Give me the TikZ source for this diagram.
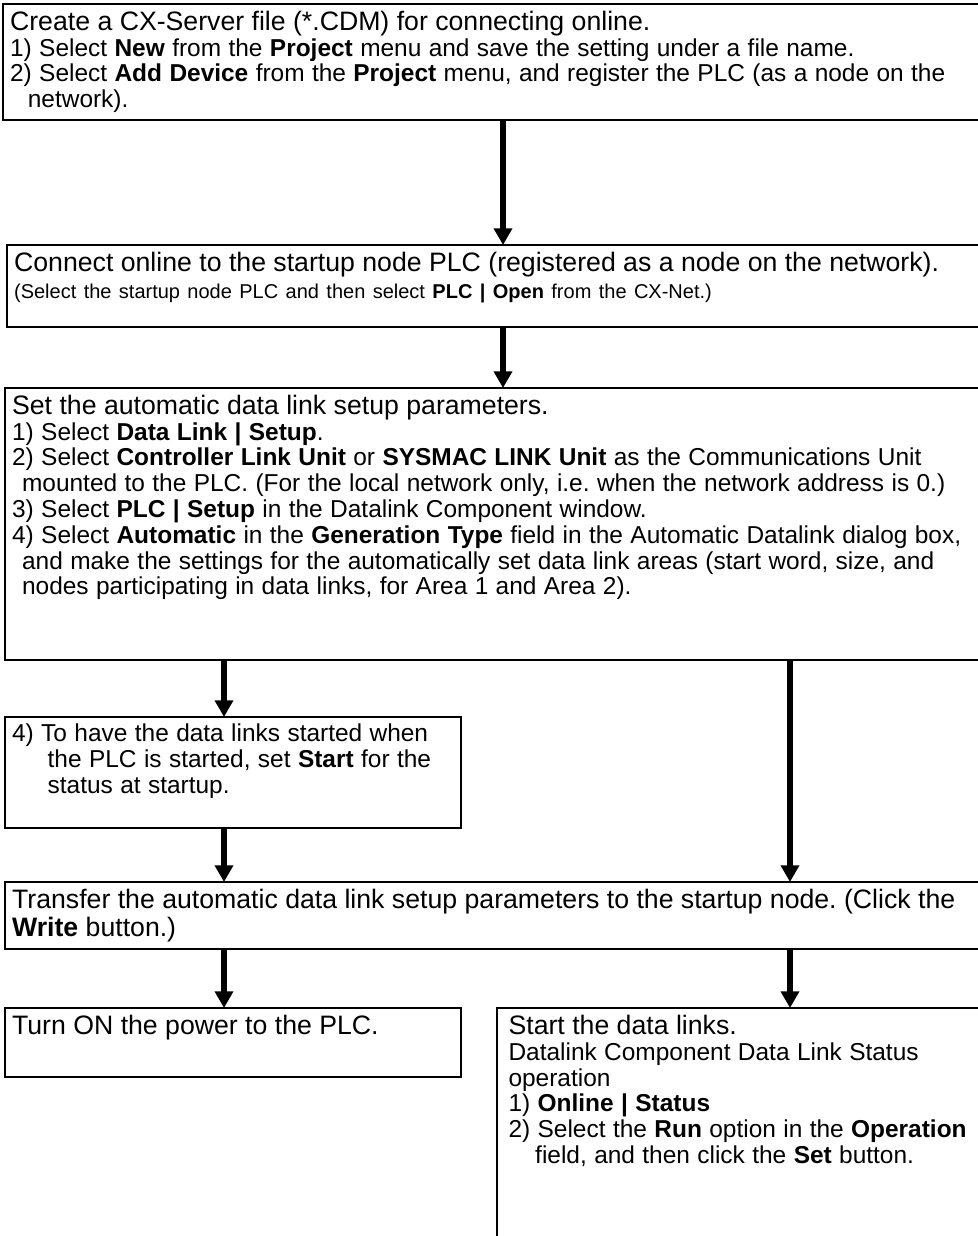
\documentclass[tikz,border=0pt]{standalone}
\usepackage{fontspec}
\setmainfont{Liberation Sans}
\usetikzlibrary{arrows.meta,calc}
\newcommand{\fhead}{\fontsize{12}{12.6}\selectfont}
\newcommand{\fbody}{\fontsize{11}{11.6}\selectfont}
\newcommand{\fsmall}{\fontsize{9}{12.2}\selectfont}
\begin{document}
\frenchspacing
\begin{tikzpicture}[x=0.45pt,y=-0.45pt,
  box/.style={draw, line width=0.9pt, anchor=north west, inner sep=0pt, outer sep=0pt},
  txt/.style={anchor=north west, inner xsep=3pt, inner ysep=3pt, align=left, text width=440pt, font=\frenchspacing},
  arr/.style={line width=2.8pt, -{Triangle[width=8pt,length=7.5pt]}}]
\useasboundingbox (0,0) rectangle (978,1236);
\clip (0,0) rectangle (978,1236);
% boxes
\node[box, minimum width=450pt, minimum height=52.2pt] (b1) at (3,4) {};
\node[box, minimum width=450pt, minimum height=36.9pt] (b2) at (7,245) {};
\node[box, minimum width=450pt, minimum height=122.4pt] (b3) at (5,388) {};
\node[box, minimum width=205.2pt, minimum height=49.95pt] (b4) at (5,717) {};
\node[box, minimum width=450pt, minimum height=30pt] (b5) at (5,882) {};
\node[box, minimum width=205.2pt, minimum height=31pt] (b6) at (5,1008) {};
\node[box, minimum width=250pt, minimum height=120pt] (b7) at (497,1008) {};
% texts
\node[txt] (t1) at (b1.north west) {\fhead Create a CX-Server file (*.CDM) for connecting online.\par
\fbody 1) Select \textbf{New} from the \textbf{Project} menu and save the setting under a file name.\par
2) Select \textbf{Add Device} from the \textbf{Project} menu, and register the PLC (as a node on the\\\hspace*{8pt}network).\par};
\node[txt] (t2) at (b2.north west) {\fhead Connect online to the startup node PLC (registered as a node on the network).\par
\fsmall (Select the startup node PLC and then select \textbf{PLC | Open} from the CX-Net.)\par};
\node[txt] (t3) at (b3.north west) {\fhead Set the automatic data link setup parameters.\par
\fbody 1) Select \textbf{Data Link | Setup}.\par
2) Select \textbf{Controller Link Unit} or \textbf{SYSMAC LINK Unit} as the Communications Unit\\\hspace*{4.5pt}mounted to the PLC. (For the local network only, i.e. when the network address is 0.)\par
3) Select \textbf{PLC | Setup} in the Datalink Component window.\par
4) Select \textbf{Automatic} in the \textbf{Generation Type} field in the Automatic Datalink dialog box,\\\hspace*{4.5pt}and make the settings for the automatically set data link areas (start word, size, and\\\hspace*{4.5pt}nodes participating in data links, for Area 1 and Area 2).\par};
\node[txt, text width=240pt] (t4) at (b4.north west) {\fbody 4) To have the data links started when\\\hspace*{16pt}the PLC is started, set \textbf{Start} for the\\\hspace*{16pt}status at startup.\par};
\node[txt] (t5) at (b5.north west) {\fhead Transfer the automatic data link setup parameters to the startup node. (Click the\\\textbf{Write} button.)\par};
\node[txt, text width=240pt] (t6) at (b6.north west) {\fhead Turn ON the power to the PLC.\par};
\node[txt, text width=240pt, inner xsep=5pt] (t7) at (b7.north west) {\fhead Start the data links.\par
\fbody Datalink Component Data Link Status\\operation\par
1) \textbf{Online | Status}\par
2) Select the \textbf{Run} option in the \textbf{Operation}\\\hspace*{12pt}field, and then click the \textbf{Set} button.\par};
% connectors
\coordinate (cm) at (503,0);
\coordinate (cl) at (224,0);
\coordinate (cr) at (790,0);
\draw[arr] (cm |- b1.south) -- (cm |- b2.north);
\draw[arr] (cm |- b2.south) -- (cm |- b3.north);
\draw[arr] (cl |- b3.south) -- (cl |- b4.north);
\draw[arr] (cr |- b3.south) -- (cr |- b5.north);
\draw[arr] (cl |- b4.south) -- (cl |- b5.north);
\draw[arr] (cl |- b5.south) -- (cl |- b6.north);
\draw[arr] (cr |- b5.south) -- (cr |- b7.north);
\end{tikzpicture}
\end{document}
